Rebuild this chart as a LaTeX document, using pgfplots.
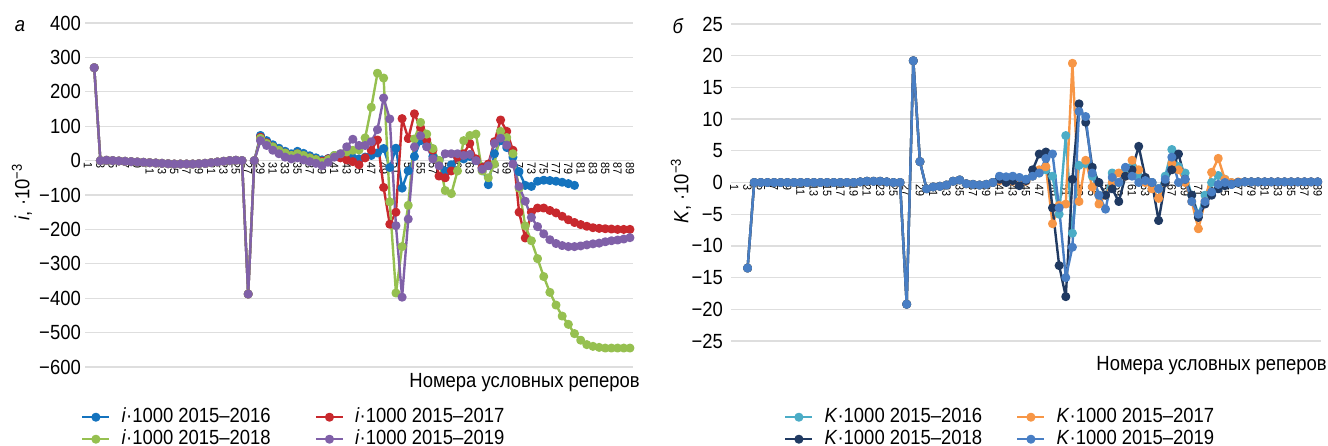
\documentclass[border=0pt]{standalone}
\usepackage{pgfplots}
\pgfplotsset{compat=1.18}
\usepackage{fontspec}
\setmainfont{Liberation Sans}[FakeStretch=0.9]
\newcommand\fbig{\fontsize{20.5bp}{24bp}\selectfont}
\newcommand\fsmall{\fontsize{12bp}{14bp}\selectfont}
\definecolor{cBlue}{RGB}{20,115,190}
\definecolor{cRed}{RGB}{200,40,45}
\definecolor{cGreen}{RGB}{150,192,80}
\definecolor{cPurple}{RGB}{128,96,168}
\definecolor{cTeal}{RGB}{75,172,198}
\definecolor{cOrange}{RGB}{247,150,70}
\definecolor{cNavy}{RGB}{32,58,98}
\definecolor{cBlue2}{RGB}{72,126,196}
\pgfplotsset{myax/.style={
  scale only axis,
  axis x line=middle, axis y line=left,
  axis line style={draw=none},
  major tick length=0pt,
  ymajorgrids, grid style={draw=black!13, line width=1.3bp},
  xmin=0.5, xmax=89.5, xtick={1,3,...,89},
  xticklabel style={font=\fsmall, rotate=-90, anchor=west, inner sep=2bp},
  yticklabel style={font=\fbig, inner sep=0pt, anchor=east},
  /pgf/number format/assume math mode=true,
  every axis plot/.append style={line width=2.4bp, mark=*, mark size=3.3bp, line join=round, mark options={solid}},
  legend columns=2, legend cell align=left,
  legend image code/.code={\draw[mark repeat=2,mark phase=2,##1] plot coordinates {(0bp,0bp) (13.5bp,0bp) (27bp,0bp)};},
}}
\begin{document}
\begin{tikzpicture}
\useasboundingbox (0,0) rectangle (1328bp,446bp);
% ---------------- left panel ----------------
\begin{axis}[myax, name=left,
  at={(85bp,79bp)}, anchor=south west, width=548bp, height=344bp,
  ymin=-600, ymax=400, ytick={-600,-500,...,400},
  yticklabels={−600,−500,−400,−300,−200,−100,0,100,200,300,400},
  yticklabel style={xshift=-4bp},
  legend style={at={(rel axis cs:0,0)}, anchor=north west, xshift=-4bp, yshift=-39bp,
    draw=none, fill=none, inner sep=0pt, font=\fbig, row sep=0pt,
    nodes={inner sep=1bp, text height=15bp, text depth=5bp},
    /tikz/every odd column/.append style={column sep=10bp},
    /tikz/every even column/.append style={column sep=43bp}},
]
\addplot[color=cBlue] coordinates {(2,270)(3,0)(4,1)(5,0)(6,-1)(7,-2)(8,-3)(9,-4)(10,-5)(11,-6)(12,-7)(13,-8)(14,-9)(15,-10)(16,-10)(17,-10)(18,-10)(19,-9)(20,-8)(21,-6)(22,-4)(23,-2)(24,0)(25,1)(26,0)(27,-388)(28,0)
(29,73)(30,58)(31,46)(32,36)(33,27)(34,20)(35,27)(36,21)(37,14)(38,8)(39,2)(40,6)(41,15)(42,18)(43,15)(44,8)(45,5)(46,10)(47,15)(48,22)(49,35)(50,-20)(51,36)(52,-80)(53,-30)(54,12)(55,58)(56,42)(57,12)(58,0)(59,-30)(60,-12)(61,10)(62,5)(63,12)(64,0)(65,-22)(66,-70)(67,20)(68,58)(69,38)(70,10)(71,-32)(72,-72)(73,-75)(74,-60)(75,-57)(76,-58)(77,-60)(78,-63)(79,-67)(80,-72)};
\addlegendentry{\textit{i}·1000 2015–2016}
\addplot[color=cRed] coordinates {(2,270)(3,0)(4,1)(5,0)(6,-1)(7,-2)(8,-3)(9,-4)(10,-5)(11,-6)(12,-7)(13,-8)(14,-9)(15,-10)(16,-10)(17,-10)(18,-10)(19,-9)(20,-8)(21,-6)(22,-4)(23,-2)(24,0)(25,1)(26,0)(27,-388)(28,0)
(29,68)(30,52)(31,40)(32,30)(33,22)(34,15)(35,20)(36,14)(37,8)(38,3)(39,-2)(40,5)(41,12)(42,8)(43,2)(44,-3)(45,-12)(46,8)(47,30)(48,60)(49,-78)(50,-185)(51,-150)(52,122)(53,64)(54,136)(55,96)(56,60)(57,30)(58,-45)(59,-50)(60,-30)(61,10)(62,20)(63,50)(64,5)(65,-20)(66,-10)(67,55)(68,118)(69,85)(70,30)(71,-150)(72,-225)(73,-150)(74,-138)(75,-138)(76,-145)(77,-152)(78,-162)(79,-172)(80,-180)(81,-186)(82,-191)(83,-195)(84,-197)(85,-198)(86,-199)(87,-200)(88,-200)(89,-200)};
\addlegendentry{\textit{i}·1000 2015–2017}
\addplot[color=cGreen] coordinates {(2,270)(3,0)(4,1)(5,0)(6,-1)(7,-2)(8,-3)(9,-4)(10,-5)(11,-6)(12,-7)(13,-8)(14,-9)(15,-10)(16,-10)(17,-10)(18,-10)(19,-9)(20,-8)(21,-6)(22,-4)(23,-2)(24,0)(25,1)(26,0)(27,-388)(28,0)
(29,65)(30,50)(31,40)(32,30)(33,22)(34,15)(35,20)(36,15)(37,8)(38,3)(39,-5)(40,3)(41,15)(42,20)(43,25)(44,30)(45,31)(46,66)(47,155)(48,254)(49,240)(50,-120)(51,-385)(52,-250)(53,-130)(54,63)(55,111)(56,77)(57,35)(58,0)(59,-87)(60,-96)(61,-30)(62,58)(63,73)(64,77)(65,-30)(66,-50)(67,-10)(68,85)(69,67)(70,20)(71,-80)(72,-190)(73,-233)(74,-285)(75,-337)(76,-383)(77,-420)(78,-452)(79,-476)(80,-503)(81,-522)(82,-535)(83,-540)(84,-543)(85,-545)(86,-545)(87,-545)(88,-545)(89,-545)};
\addlegendentry{\textit{i}·1000 2015–2018}
\addplot[color=cPurple] coordinates {(2,270)(3,0)(4,1)(5,0)(6,-1)(7,-2)(8,-3)(9,-4)(10,-5)(11,-6)(12,-7)(13,-8)(14,-9)(15,-10)(16,-10)(17,-10)(18,-10)(19,-9)(20,-8)(21,-6)(22,-4)(23,-2)(24,0)(25,1)(26,0)(27,-388)(28,0)
(29,58)(30,44)(31,30)(32,20)(33,10)(34,5)(35,8)(36,2)(37,-3)(38,-8)(39,-15)(40,-5)(41,10)(42,20)(43,40)(44,62)(45,44)(46,44)(47,55)(48,90)(49,182)(50,121)(51,-189)(52,-397)(53,-170)(54,40)(55,72)(56,40)(57,5)(58,-15)(59,20)(60,20)(61,20)(62,15)(63,18)(64,0)(65,-25)(66,-15)(67,50)(68,65)(69,45)(70,-10)(71,-75)(72,-118)(73,-165)(74,-192)(75,-213)(76,-230)(77,-241)(78,-247)(79,-250)(80,-250)(81,-248)(82,-245)(83,-242)(84,-240)(85,-236)(86,-233)(87,-231)(88,-228)(89,-224)};
\addlegendentry{\textit{i}·1000 2015–2019}
\end{axis}
\node[anchor=north east, inner sep=0pt, font=\fbig] at ([xshift=7bp,yshift=-6bp]left.south east) {Номера условных реперов};
\node[rotate=90, inner sep=0pt, font=\fbig] at ([xshift=-63bp,yshift=3bp]left.west) {\textit{i}, ·10\textsuperscript{−3}};
\node[inner sep=0pt, font=\fbig] at ([xshift=-65bp,yshift=-3bp]left.north west) {\textit{а}};
% ---------------- right panel ----------------
\begin{axis}[myax, name=right,
  at={(731bp,105bp)}, anchor=south west, width=590bp, height=317bp,
  ymin=-25, ymax=25, ytick={-25,-20,...,25},
  yticklabels={−25,−20,−15,−10,−5,0,5,10,15,20,25},
  yticklabel style={xshift=-8bp},
  legend style={at={(rel axis cs:0,0)}, anchor=north west, xshift=53bp, yshift=-65bp,
    draw=none, fill=none, inner sep=0pt, font=\fbig, row sep=0pt,
    nodes={inner sep=1bp, text height=15bp, text depth=5bp},
    /tikz/every odd column/.append style={column sep=10bp},
    /tikz/every even column/.append style={column sep=33bp}},
]
\addplot[color=cTeal] coordinates {(3,-13.5)(4,0)(5,0)(6,0)(7,0)(8,0)(9,0)(10,0)(11,0)(12,0)(13,0)(14,0)(15,0)(16,0)(17,0)(18,0)(19,0)(20,0.1)(21,0.2)(22,0.2)(23,0.2)(24,0.1)(25,0)(26,0)(27,-19.2)(28,19.2)(29,3.3)(30,-1)(31,-0.7)(32,-0.6)(33,-0.4)(34,0.2)(35,0.4)(36,-0.2)(37,-0.3)(38,-0.4)(39,-0.3)(40,0)
(41,0.6)(42,0.5)(43,0.6)(44,0.4)(45,0.5)(46,1.0)(47,1.5)(48,2.0)(49,1.0)(50,-5.0)(51,7.4)(52,-8.0)(53,2.7)(54,3.0)(55,1.0)(56,-2.0)(57,-2.0)(58,1.5)(59,0)(60,2.0)(61,2.5)(62,1.0)(63,0.5)(64,0)(65,-1.0)(66,1.0)(67,5.2)(68,2.5)(69,1.5)(70,-2.0)(71,-5.0)(72,-2.0)(73,0)(74,1.1)(75,0.5)(76,0)(77,0)(78,0.1)(79,0.1)(80,0.1)};
\addlegendentry{\textit{K}·1000 2015–2016}
\addplot[color=cOrange] coordinates {(3,-13.5)(4,0)(5,0)(6,0)(7,0)(8,0)(9,0)(10,0)(11,0)(12,0)(13,0)(14,0)(15,0)(16,0)(17,0)(18,0)(19,0)(20,0.1)(21,0.2)(22,0.2)(23,0.2)(24,0.1)(25,0)(26,0)(27,-19.2)(28,19.2)(29,3.3)(30,-1)(31,-0.7)(32,-0.6)(33,-0.4)(34,0.2)(35,0.4)(36,-0.2)(37,-0.3)(38,-0.4)(39,-0.3)(40,0)
(41,0.3)(42,0.3)(43,0.2)(44,0)(45,0.2)(46,1.0)(47,2.0)(48,2.5)(49,-6.5)(50,-3.6)(51,-3.4)(52,18.8)(53,-3.0)(54,3.5)(55,-0.7)(56,-3.4)(57,-2.0)(58,0)(59,1.5)(60,1.0)(61,3.5)(62,2.0)(63,0)(64,-1.0)(65,-2.5)(66,0)(67,3.0)(68,2.0)(69,0)(70,-3.0)(71,-7.3)(72,-3.0)(73,1.6)(74,3.8)(75,0.5)(76,0)(77,0.1)(78,0.1)(79,0.1)(80,0.1)(81,0.1)(82,0.1)(83,0.1)(84,0.1)(85,0.1)(86,0.1)(87,0.1)(88,0.1)(89,0.1)};
\addlegendentry{\textit{K}·1000 2015–2017}
\addplot[color=cNavy] coordinates {(3,-13.5)(4,0)(5,0)(6,0)(7,0)(8,0)(9,0)(10,0)(11,0)(12,0)(13,0)(14,0)(15,0)(16,0)(17,0)(18,0)(19,0)(20,0.1)(21,0.2)(22,0.2)(23,0.2)(24,0.1)(25,0)(26,0)(27,-19.2)(28,19.2)(29,3.3)(30,-1)(31,-0.7)(32,-0.6)(33,-0.4)(34,0.2)(35,0.4)(36,-0.2)(37,-0.3)(38,-0.4)(39,-0.3)(40,0)
(41,0.5)(42,0)(43,0.3)(44,-0.5)(45,0.3)(46,2.0)(47,4.5)(48,4.8)(49,-4.0)(50,-13.1)(51,-18.0)(52,0.5)(53,12.4)(54,9.5)(55,2.4)(56,0)(57,-2.0)(58,-1.0)(59,-3.0)(60,1.0)(61,2.0)(62,5.7)(63,0.8)(64,0)(65,-6.0)(66,0)(67,2.0)(68,4.5)(69,0.5)(70,-2.0)(71,-5.5)(72,-3.4)(73,-2.0)(74,-1.0)(75,-0.5)(76,-0.3)(77,0)(78,0.1)(79,0.1)(80,0.1)(81,0.1)(82,0.1)(83,0.1)(84,0.1)(85,0.1)(86,0.1)(87,0.1)(88,0.1)(89,0.1)};
\addlegendentry{\textit{K}·1000 2015–2018}
\addplot[color=cBlue2] coordinates {(3,-13.5)(4,0)(5,0)(6,0)(7,0)(8,0)(9,0)(10,0)(11,0)(12,0)(13,0)(14,0)(15,0)(16,0)(17,0)(18,0)(19,0)(20,0.1)(21,0.2)(22,0.2)(23,0.2)(24,0.1)(25,0)(26,0)(27,-19.2)(28,19.2)(29,3.3)(30,-1)(31,-0.7)(32,-0.6)(33,-0.4)(34,0.2)(35,0.4)(36,-0.2)(37,-0.3)(38,-0.4)(39,-0.3)(40,0)
(41,1.0)(42,0.9)(43,1.0)(44,0.8)(45,0.5)(46,1.0)(47,1.5)(48,3.8)(49,4.5)(50,-4.0)(51,-15.0)(52,-10.2)(53,11.2)(54,10.4)(55,1.5)(56,-2.0)(57,-4.2)(58,0.8)(59,0)(60,2.4)(61,1.0)(62,0)(63,0.3)(64,0)(65,-1.0)(66,0.5)(67,4.0)(68,0)(69,0.5)(70,-3.0)(71,-5.0)(72,-3.0)(73,-1.5)(74,-0.3)(75,0)(76,-0.3)(77,0)(78,0.1)(79,0.1)(80,0.1)(81,0.1)(82,0.1)(83,0.1)(84,0.1)(85,0.1)(86,0.1)(87,0.1)(88,0.1)(89,0.1)};
\addlegendentry{\textit{K}·1000 2015–2019}
\end{axis}
\node[anchor=north east, inner sep=0pt, font=\fbig] at ([xshift=6bp,yshift=-15bp]right.south east) {Номера условных реперов};
\node[rotate=90, inner sep=0pt, font=\fbig] at ([xshift=-50bp,yshift=-8.5bp]right.west) {\textit{K}, ·10\textsuperscript{−3}};
\node[inner sep=0pt, font=\fbig] at ([xshift=-53bp,yshift=-2bp]right.north west) {\textit{б}};
\end{tikzpicture}
\end{document}
